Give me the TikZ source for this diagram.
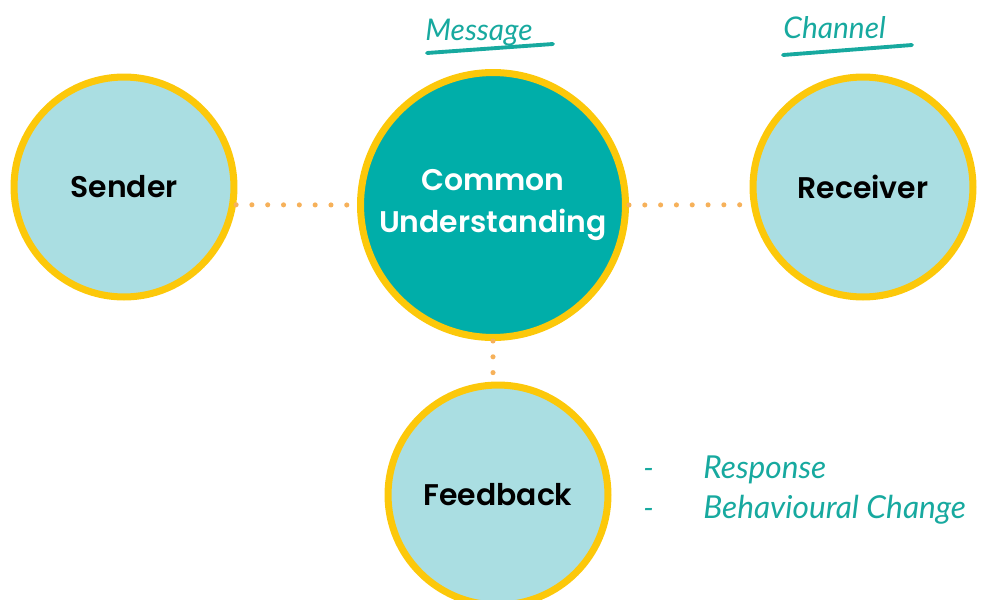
\documentclass[tikz,border=0pt]{standalone}
\usepackage{fontspec}
\setmainfont{Poppins}[BoldFont={Poppins SemiBold}]
\newfontfamily\scrittura{Lato Italic}
\usetikzlibrary{positioning}

\definecolor{azzurro}{HTML}{AADEE2}
\definecolor{petrolio}{HTML}{00AEA9}
\definecolor{giallo}{HTML}{FCC80A}
\definecolor{arancio}{HTML}{F6B15A}
\definecolor{verdeacqua}{HTML}{17A99F}

\begin{document}
\begin{tikzpicture}[
			x=0.02cm, y=-0.02cm,
			cerchio/.style={circle, draw=giallo, line width=4pt, fill=azzurro,
				inner sep=0pt, align=center, text=black,
				font=\bfseries\fontsize{17}{24}\selectfont},
			puntini/.style={draw=arancio, line width=2.9pt, line cap=round,
				dash pattern=on 0pt off 9pt},
			nota/.style={text=verdeacqua, inner sep=0pt, anchor=base west,
				font=\scrittura\fontsize{17}{20}\selectfont},
			sottolinea/.style={draw=verdeacqua, line width=2.2pt, line cap=round}]
			
			\useasboundingbox (0,0) rectangle (1004,599);
			\clip (0,0) rectangle (1004,599);
			
			%% --- i quattro cerchi ---
			\node[cerchio, minimum size=4.4cm] (sender) at (124,187) {Sender};
			\node[cerchio, minimum size=5.3cm, fill=petrolio, text=white]
				(common) at (493,205) {Common\\Understanding};
			\node[cerchio, minimum size=4.4cm] (receiver) at (863,187) {Receiver};
			\node[cerchio, minimum size=4.4cm] (feedback) at (498,495) {Feedback};
			
			%% --- collegamenti a puntini ---
			\draw[puntini] (sender.-9) -- (common.west);
			\draw[puntini] (common.east) -- (receiver.189);
			\draw[puntini] (common.south) -- (common.south |- feedback.north);
			
			%% --- note a mano ---
			\node[nota] (message) at (425,40) {Message};
			\coordinate (m1) at (427,53);
			\coordinate (m2) at (553,44);
			\draw[sottolinea] (m1) -- (m2);
			
			\node[nota] (channel) at (783,38) {Channel};
			\coordinate (c1) at (783,55);
			\coordinate (c2) at (912,45);
			\draw[sottolinea] (c1) -- (c2);
			
			\node[nota] (trattino1) at (643,478) {-};
			\node[nota, font=\scrittura\fontsize{18}{20}\selectfont]
				(response) at (703,478) {Response};
			\node[nota] (trattino2) at (643,518) {-};
			\node[nota, font=\scrittura\fontsize{18}{20}\selectfont]
				(behaviour) at (703,518) {Behavioural Change};
			
		\end{tikzpicture}
\end{document}
